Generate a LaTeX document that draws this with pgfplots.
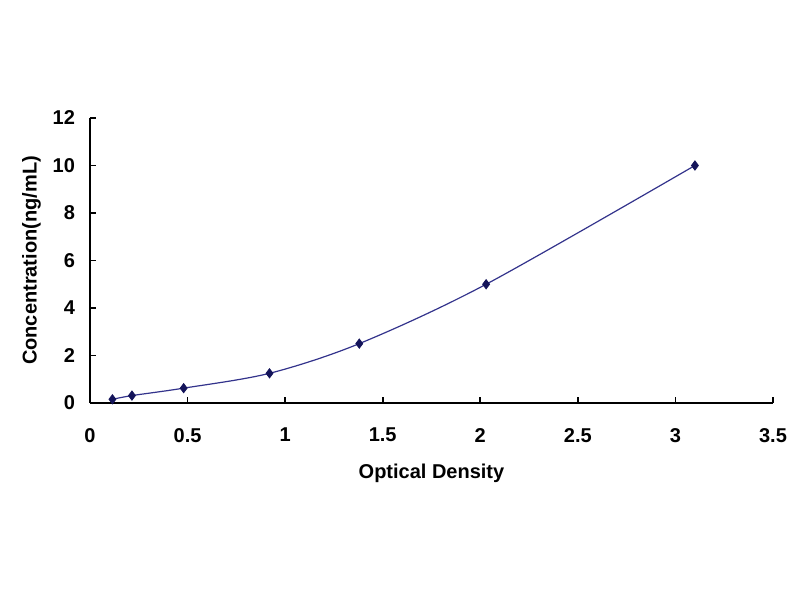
\documentclass[border=0pt]{standalone}
\usepackage{pgfplots}
\pgfplotsset{compat=1.18}
\usepackage{fontspec}
\setmainfont{Liberation Sans}
\definecolor{curve}{RGB}{51,51,140}
\definecolor{dots}{RGB}{20,20,90}
\begin{document}
\begin{tikzpicture}[x=0.5pt,y=0.5pt]
  \fill[white] (-90,-197) rectangle (710,403);
  \path[use as bounding box] (-90,-197) rectangle (710,403);
  \begin{axis}[
    at={(0,0)}, anchor=south west,
    scale only axis,
    width=341.5pt, height=142.5pt,
    xmin=0, xmax=3.5, ymin=0, ymax=12,
    xtick={0,0.5,...,3.5},
    ytick={0,2,...,12},
    axis x line*=bottom, axis y line*=left,
    axis line style={black, line width=0.9pt, -},
    tick style={black, line width=0.8pt},
    tick align=inside,
    major tick length=3pt,
    /pgf/number format/assume math mode=true,
    tick label style={font=\bfseries\fontsize{10}{12}\selectfont},
    xticklabel style={yshift=-9pt},
    yticklabel style={xshift=-4pt},
    xlabel={\bfseries Optical Density},
    ylabel={\bfseries Concentration(ng/mL)},
    label style={font=\fontsize{10}{12}\selectfont},
    xlabel style={yshift=-4pt},
    ylabel style={yshift=-1pt},
    clip=false]
    \addplot[curve, line width=0.6pt, smooth, no marks] coordinates {
      (0.115,0.156) (0.215,0.312) (0.48,0.625) (0.92,1.25)
      (1.38,2.5) (2.03,5) (3.10,10)
    };
    \addplot[only marks, mark=diamond*, mark size=2.3pt, dots] coordinates {
      (0.115,0.156) (0.215,0.312) (0.48,0.625) (0.92,1.25)
      (1.38,2.5) (2.03,5) (3.10,10)
    };
  \end{axis}
\end{tikzpicture}
\end{document}
